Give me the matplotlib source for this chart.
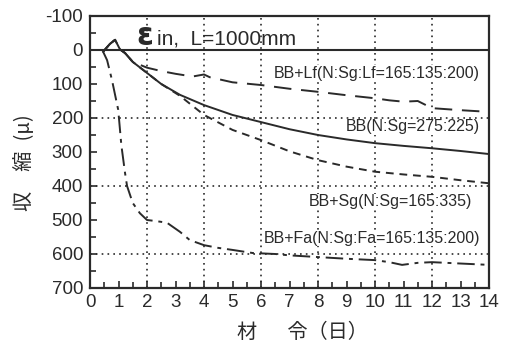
import matplotlib
matplotlib.use("Agg")
import matplotlib.pyplot as plt
import numpy as np

# ---- data (days, strain in micro) ####
bb_x = [0.46, 0.7, 0.88, 1.05, 1.23, 1.5, 1.87, 2.5, 3.16, 4.0, 5.0, 6.0, 7.0, 8.0, 9.0, 10.0, 11.0, 12.0, 13.0, 14.0]
bb_y = [5, -18, -30, -2, 9, 35, 59, 100, 132, 162, 191, 212, 233, 250, 263, 274, 282, 289, 297, 306]

sg_x = [0.46, 0.7, 0.88, 1.05, 1.23, 1.5, 1.87, 2.5, 3.16, 4.0, 5.0, 6.0, 7.0, 8.0, 9.0, 10.0, 11.0, 12.0, 13.0, 14.0]
sg_y = [5, -18, -30, -2, 9, 35, 59, 100, 135, 191, 235, 265, 298, 324, 343, 358, 366, 373, 383, 392]

lf_x = [0.46, 0.7, 0.88, 1.05, 1.23, 1.5, 2.0, 2.5, 3.0, 3.6, 4.0, 4.2, 5.0, 6.0, 7.0, 8.0, 9.0, 10.0, 10.5, 11.0, 11.5, 12.0, 13.0, 14.0]
lf_y = [5, -18, -30, -2, 9, 35, 52, 62, 70, 78, 72, 80, 95, 103, 114, 123, 133, 142, 148, 152, 150, 171, 177, 182]

fa_x = [0.46, 0.6, 0.77, 0.99, 1.1, 1.23, 1.3, 1.5, 1.75, 2.0, 2.3, 2.7, 3.16, 3.5, 4.0, 4.5, 5.0, 5.7, 6.5, 7.0, 8.0, 9.0, 10.0, 10.5, 10.95, 11.5, 12.0, 13.0, 14.0]
fa_y = [5, 30, 88, 176, 280, 362, 400, 450, 480, 500, 503, 508, 535, 559, 574, 582, 588, 597, 600, 604, 609, 614, 618, 624, 632, 626, 624, 628, 632]

labels = ["BB+Lf(N:Sg:Lf=165:135:200)", "BB(N:Sg=275:225)", "BB+Sg(N:Sg=165:335)", "BB+Fa(N:Sg:Fa=165:135:200)"]
x_ticks = list(range(0, 15))
y_ticks = list(range(-100, 701, 100))

ink = "#2a2a2a"
plt.rcParams["font.family"] = ["Liberation Sans", "DejaVu Sans"]
plt.rcParams["axes.unicode_minus"] = False
cjk = ["Noto Sans CJK JP", "DejaVu Sans"]

fig = plt.figure(figsize=(5.07, 3.46), dpi=100)
ax = fig.add_axes([90/507, 1-288/346, 399/507, 272/346])

##### curves #####
ax.plot(bb_x, bb_y, color=ink, lw=1.4, linestyle="-")
ax.plot(sg_x, sg_y, color=ink, lw=1.4, linestyle=(0, (4, 3)))
ax.plot(lf_x, lf_y, color=ink, lw=1.4, linestyle=(0, (9, 5)))
ax.plot(fa_x, fa_y, color=ink, lw=1.4, linestyle=(0, (9, 3, 2, 3)))

##### grid #####
for gx in [2, 4, 6, 8, 10, 12]:
    ax.axvline(gx, color=ink, lw=1.2, linestyle=(0, (1, 2.5)))
for gy in [200, 400, 600]:
    ax.axhline(gy, color=ink, lw=1.2, linestyle=(0, (1, 2.5)))
ax.axhline(0, color=ink, lw=1.5)

##### axes #####
ax.set_xlim(0, 14)
ax.set_ylim(700, -100)
ax.set_xticks(x_ticks)
ax.set_xticks(np.arange(0, 14.01, 0.5), minor=True)
ax.set_yticks(y_ticks)
ax.set_yticks(np.arange(-100, 701, 50), minor=True)
ax.tick_params(which="both", direction="in", colors=ink, width=1.2, labelsize=13.5)
ax.tick_params(which="major", length=5)
ax.tick_params(which="minor", length=4)
ax.tick_params(axis="y", pad=5)
ax.tick_params(axis="x", pad=4)
for s in ax.spines.values():
    s.set_linewidth(1.6)
    s.set_color(ink)

##### text #####
ax.text(0.115, 0.895, "ε", transform=ax.transAxes, fontsize=22, fontweight="bold",
        color=ink, family=["DejaVu Sans"], va="baseline")
ax.text(0.168, 0.895, "in,  L=1000mm", transform=ax.transAxes, fontsize=15,
        color=ink, va="baseline")

box = dict(facecolor="white", edgecolor="none", pad=0.5)
ax.text(13.68, 68, labels[0], fontsize=11.5, color=ink, ha="right", va="center", bbox=box)
ax.text(13.68, 226, labels[1], fontsize=11.5, color=ink, ha="right", va="center", bbox=box)
ax.text(13.4, 447, labels[2], fontsize=11.5, color=ink, ha="right", va="center", bbox=box)
ax.text(13.68, 553, labels[3], fontsize=11.5, color=ink, ha="right", va="center", bbox=box)

fig.text(25/507, 1-163/346, "収\u3000縮\u2002(μ)", rotation=90, fontsize=14.5, color=ink,
         family=cjk, ha="center", va="center")
fig.text(302/507, 1-332/346, "材\u3000\u2002令（日）", fontsize=14.5, color=ink,
         family=cjk, ha="center", va="center")

fig.savefig("out.png", dpi=100)
